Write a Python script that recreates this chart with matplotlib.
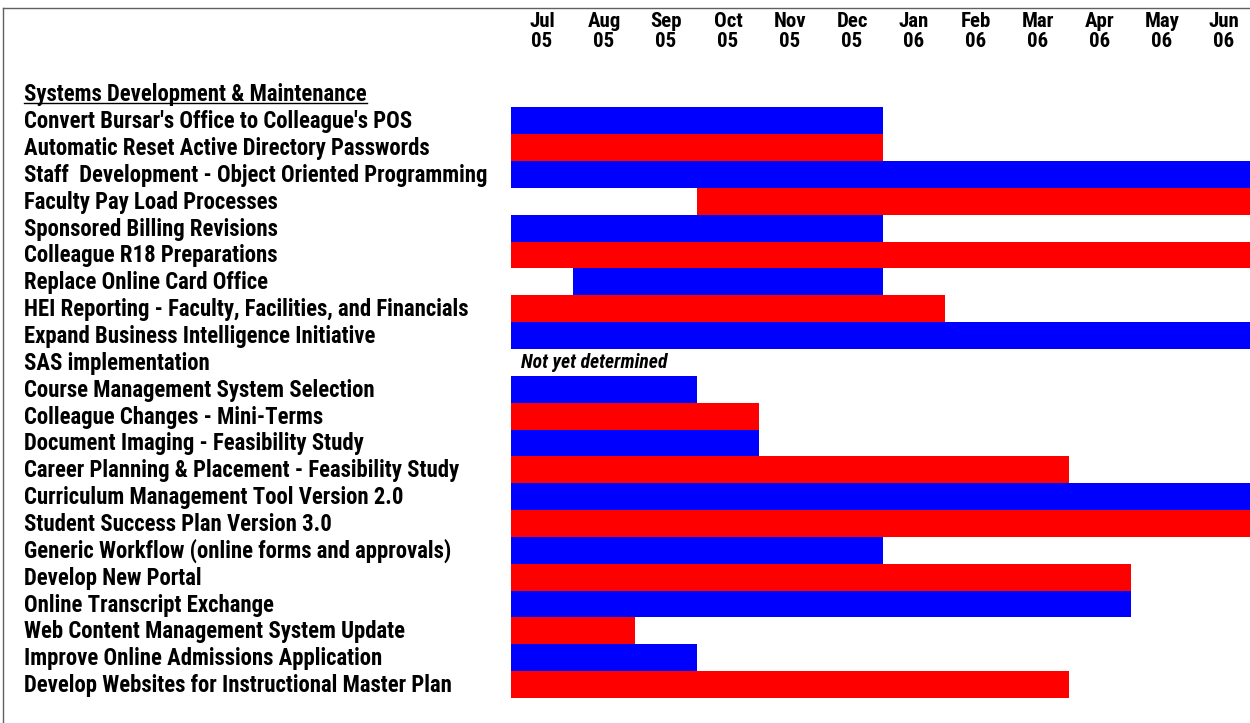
import matplotlib
matplotlib.use("Agg")
import matplotlib.pyplot as plt
import matplotlib.transforms as mtransforms
from matplotlib import font_manager
from matplotlib.lines import Line2D

# === DATA ===
months = ["Jul", "Aug", "Sep", "Oct", "Nov", "Dec",
          "Jan", "Feb", "Mar", "Apr", "May", "Jun"]
years = ["05", "05", "05", "05", "05", "05",
         "06", "06", "06", "06", "06", "06"]

section_title = "Systems Development & Maintenance"

projects = [
    "Convert Bursar's Office to Colleague's POS",
    "Automatic Reset Active Directory Passwords",
    "Staff  Development - Object Oriented Programming",
    "Faculty Pay Load Processes",
    "Sponsored Billing Revisions",
    "Colleague R18 Preparations",
    "Replace Online Card Office",
    "HEI Reporting - Faculty, Facilities, and Financials",
    "Expand Business Intelligence Initiative",
    "SAS implementation",
    "Course Management System Selection",
    "Colleague Changes - Mini-Terms",
    "Document Imaging - Feasibility Study",
    "Career Planning & Placement - Feasibility Study",
    "Curriculum Management Tool Version 2.0",
    "Student Success Plan Version 3.0",
    "Generic Workflow (online forms and approvals)",
    "Develop New Portal",
    "Online Transcript Exchange",
    "Web Content Management System Update",
    "Improve Online Admissions Application",
    "Develop Websites for Instructional Master Plan",
]
# month index where work starts (0 = Jul 05) and length in months
start_month = [0, 0, 0, 3, 0, 0, 1, 0, 0, None, 0, 0, 0, 0, 0, 0, 0, 0, 0, 0, 0, 0]
duration = [6, 6, 12, 9, 6, 12, 5, 7, 12, None, 3, 4, 4, 9, 12, 12, 6, 10, 10, 2, 3, 9]
undetermined_note = "Not yet determined"

# === STYLE ===
W, H = 1250, 723
installed = {f.name for f in font_manager.fontManager.ttflist}
FONT = "Liberation Sans"
for cand in ["Liberation Sans Narrow", "Roboto Condensed", "Open Sans Condensed",
             "Liberation Sans"]:
    if cand in installed:
        FONT = cand
        break

BLUE, RED = "#0000ff", "#ff0000"

fig = plt.figure(figsize=(W / 100, H / 100), dpi=100)
fig.patch.set_facecolor("white")
renderer = fig.canvas.get_renderer()

# pick a label size so the longest name spans about 450 px
probe = fig.text(0, 0, max(projects, key=len), fontsize=14, fontweight="bold",
                 family=FONT)
probe_w = probe.get_window_extent(renderer).width
probe.remove()
FS = min(18.0, 14 * 450 / probe_w)

# chart area in pixels: x 511..1255 (12 months, runs past right edge), rows of 26.85 px
row_h = 26.85
top_px = 107.3 - row_h  # row 0 holds the section title
n_rows = len(projects) + 1
bottom_px = top_px + n_rows * row_h
x0_px, x1_px = 511, 511 + 12 * 62
ax = fig.add_axes([x0_px / W, 1 - bottom_px / H,
                   (x1_px - x0_px) / W, (bottom_px - top_px) / H])
ax.set_xlim(0, 12)
ax.set_ylim(n_rows, 0)
ax.axis("off")

for i, (s, d) in enumerate(zip(start_month, duration), start=1):
    if s is None:
        continue
    color = BLUE if i % 2 == 1 else RED
    ax.barh(i + 0.5, d, left=s, height=1.0, color=color, edgecolor="none")

# row labels
label_tr = mtransforms.blended_transform_factory(fig.transFigure, ax.transData)
base_off = 7.5 / row_h
title_txt = fig.text(24 / W, 0.5 + base_off, section_title, transform=label_tr,
                     fontsize=FS, fontweight="bold", va="baseline", ha="left",
                     family=FONT)
for i, name in enumerate(projects, start=1):
    fig.text(24 / W, i + 0.5 + base_off, name, transform=label_tr,
             fontsize=FS, fontweight="bold", va="baseline", ha="left",
             family=FONT)

sas_row = start_month.index(None) + 1
ax.text(0.16, sas_row + 0.5 + 6.0 / row_h, undetermined_note,
        fontsize=FS * 0.86, fontweight="bold", style="italic", va="baseline",
        ha="left", family=FONT)

# month header
head_tr = mtransforms.blended_transform_factory(ax.transData, fig.transFigure)
for k, (m, y) in enumerate(zip(months, years)):
    fig.text(k + 0.5, 1 - 27 / H, m, transform=head_tr, fontsize=15,
             fontweight="bold", ha="center", va="baseline", family=FONT)
    fig.text(k + 0.5, 1 - 47 / H, y, transform=head_tr, fontsize=15,
             fontweight="bold", ha="center", va="baseline", family=FONT)

# underline under the section title
fig.canvas.draw()
bb = title_txt.get_window_extent()
ul_y = 1 - 102.5 / H
fig.add_artist(Line2D([24 / W, bb.x1 / W], [ul_y, ul_y], color="black", lw=1.0))

# frame on top and left
fig.add_artist(Line2D([3 / W, 1], [1 - 8 / H, 1 - 8 / H], color="#606060", lw=1.0))
fig.add_artist(Line2D([3 / W, 3 / W], [0, 1 - 8 / H], color="#606060", lw=1.0))

fig.savefig("out.png", dpi=100)
